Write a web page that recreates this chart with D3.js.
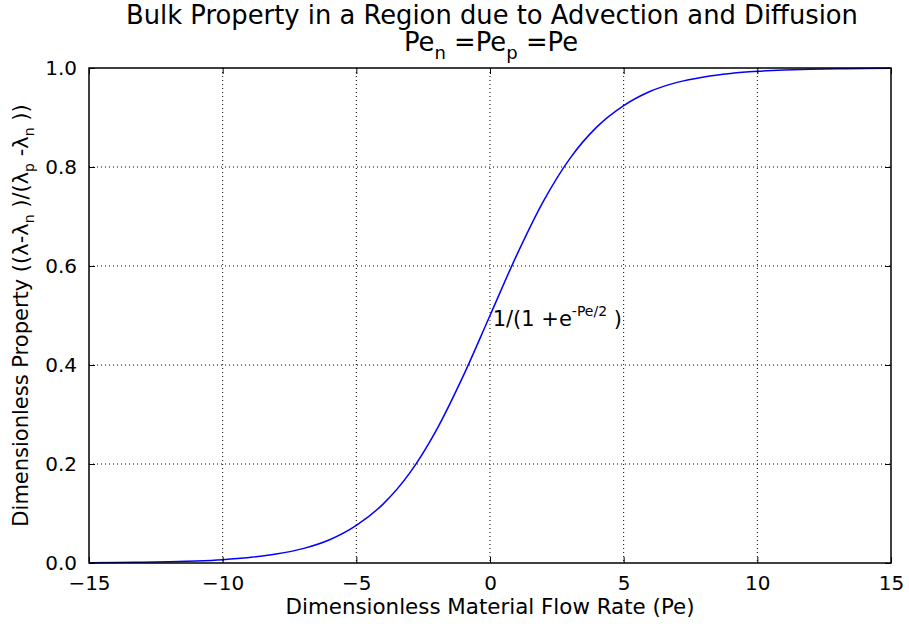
<!DOCTYPE html>
<html>
<head>
<meta charset="utf-8">
<script src="https://cdn.jsdelivr.net/npm/d3@7"></script>
<style>
  body { margin: 0; background: #fff; }
  text { font-family: "DejaVu Sans", sans-serif; }
</style>
</head>
<body>
<svg width="909" height="626"></svg>
<script>
// values
var pe = [-15, -14, -13, -12, -11, -10, -9, -8, -7, -6, -5, -4, -3, -2, -1, 0,
          1, 2, 3, 4, 5, 6, 7, 8, 9, 10, 11, 12, 13, 14, 15];
var property = [0.0006, 0.0009, 0.0015, 0.0025, 0.0041, 0.0067, 0.011, 0.018, 0.029, 0.047, 0.076,
                0.119, 0.182, 0.269, 0.378, 0.5, 0.622, 0.731, 0.818, 0.881, 0.924,
                0.953, 0.971, 0.982, 0.989, 0.9933, 0.9959, 0.9975, 0.9985, 0.9991, 0.9994];
var xTicks = [-15, -10, -5, 0, 5, 10, 15];
var yTicks = [0.0, 0.2, 0.4, 0.6, 0.8, 1.0];

var pLeft = 89, pRight = 891, pTop = 68, pBottom = 563;

var svg = d3.select("svg");

var x = d3.scaleLinear().domain([-15, 15]).range([pLeft, pRight]);
var y = d3.scaleLinear().domain([0, 1]).range([pBottom, pTop]);

// dotted grid
svg.append("g").selectAll("line").data(xTicks.slice(1, -1)).enter().append("line")
  .attr("x1", d => x(d)).attr("x2", d => x(d))
  .attr("y1", pTop).attr("y2", pBottom)
  .attr("stroke", "#000").attr("stroke-width", 1).attr("stroke-dasharray", "1,3");
svg.append("g").selectAll("line").data(yTicks.slice(1, -1)).enter().append("line")
  .attr("y1", d => y(d)).attr("y2", d => y(d))
  .attr("x1", pLeft).attr("x2", pRight)
  .attr("stroke", "#000").attr("stroke-width", 1).attr("stroke-dasharray", "1,3");

// curve
var line = d3.line().x((d, i) => x(pe[i])).y(d => y(d)).curve(d3.curveMonotoneX);
svg.append("path").datum(property)
  .attr("d", line)
  .attr("fill", "none").attr("stroke", "#0000ff").attr("stroke-width", 1.5);

// axes with inward ticks
var bottomAxis = svg.append("g").attr("transform", "translate(0," + pBottom + ")")
  .call(d3.axisBottom(x).tickValues(xTicks).tickSizeInner(-6).tickSizeOuter(0).tickPadding(13)
    .tickFormat(d => d < 0 ? "\u2212" + Math.abs(d) : d));
var topAxis = svg.append("g").attr("transform", "translate(0," + pTop + ")")
  .call(d3.axisTop(x).tickValues(xTicks).tickSizeInner(-6).tickSizeOuter(0).tickFormat(""));
var leftAxis = svg.append("g").attr("transform", "translate(" + pLeft + ",0)")
  .call(d3.axisLeft(y).tickValues(yTicks).tickSizeInner(-6).tickSizeOuter(0).tickPadding(12)
    .tickFormat(d3.format(".1f")));
var rightAxis = svg.append("g").attr("transform", "translate(" + pRight + ",0)")
  .call(d3.axisRight(y).tickValues(yTicks).tickSizeInner(-6).tickSizeOuter(0).tickFormat(""));

[bottomAxis, topAxis, leftAxis, rightAxis].forEach(function (g) {
  g.select(".domain").remove();
  g.selectAll(".tick line").attr("stroke", "#000");
  g.selectAll("text").attr("font-size", 20).attr("fill", "#000")
    .attr("font-family", "DejaVu Sans, sans-serif");
});

// frame
svg.append("rect").attr("x", pLeft).attr("y", pTop)
  .attr("width", pRight - pLeft).attr("height", pBottom - pTop)
  .attr("fill", "none").attr("stroke", "#000").attr("stroke-width", 1.5);

// title
svg.append("text").attr("x", 492).attr("y", 24).attr("text-anchor", "middle")
  .attr("font-size", 25.8).text("Bulk Property in a Region due to Advection and Diffusion");
var t2 = svg.append("text").attr("x", 491).attr("y", 51).attr("text-anchor", "middle")
  .attr("font-size", 25.8);
t2.append("tspan").text("Pe");
t2.append("tspan").attr("dy", 8).attr("font-size", 18).text("n");
t2.append("tspan").attr("dy", -8).text(" =Pe");
t2.append("tspan").attr("dy", 8).attr("font-size", 18).text("p");
t2.append("tspan").attr("dy", -8).text(" =Pe");

// annotation
var ann = svg.append("text").attr("x", x(0.1)).attr("y", 326).attr("font-size", 21);
ann.append("tspan").text("1/(1 +e");
ann.append("tspan").attr("dy", -10).attr("font-size", 14).text("-Pe/2");
ann.append("tspan").attr("dy", 10).text(" )");

// axis labels
svg.append("text").attr("x", x(0)).attr("y", 614).attr("text-anchor", "middle")
  .attr("font-size", 21.4).text("Dimensionless Material Flow Rate (Pe)");

var yl = svg.append("text").attr("transform", "translate(28," + ((pTop + pBottom) / 2) + ") rotate(-90)")
  .attr("text-anchor", "middle").attr("font-size", 21);
yl.append("tspan").text("Dimensionless Property ((\u03bb-\u03bb");
yl.append("tspan").attr("dy", 6).attr("font-size", 14).text("n");
yl.append("tspan").attr("dy", -6).text(" )/(\u03bb");
yl.append("tspan").attr("dy", 6).attr("font-size", 14).text("p");
yl.append("tspan").attr("dy", -6).text(" -\u03bb");
yl.append("tspan").attr("dy", 6).attr("font-size", 14).text("n");
yl.append("tspan").attr("dy", -6).text(" ))");
</script>
</body>
</html>
